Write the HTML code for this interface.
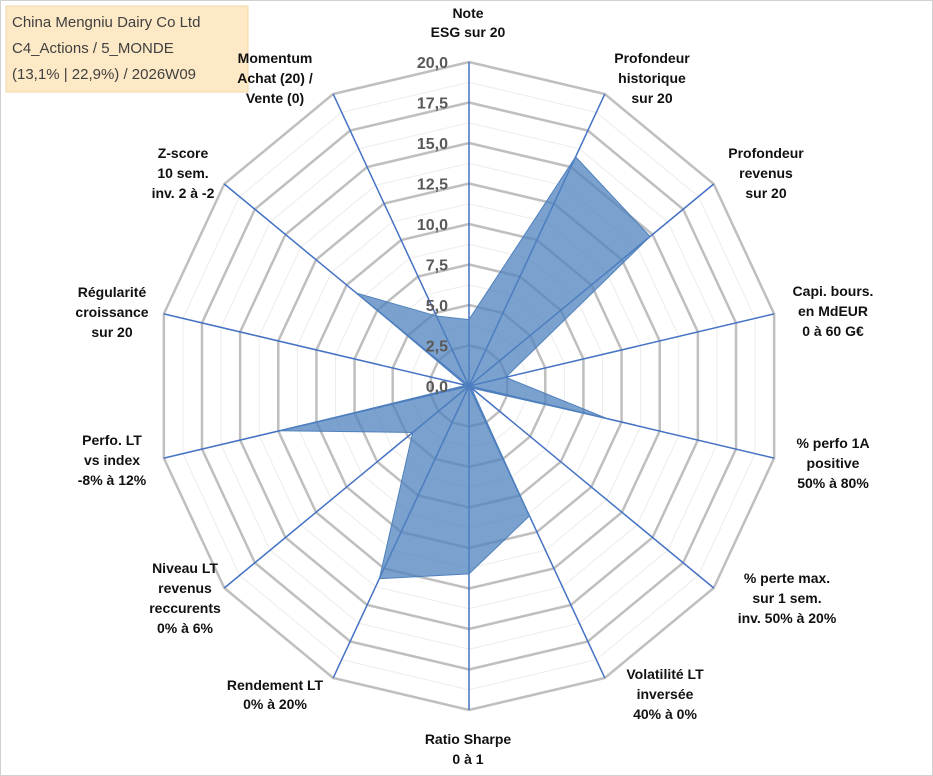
<!DOCTYPE html>
<html><head><meta charset="utf-8"><style>
body{margin:0;background:#fff}
svg{display:block;font-family:"Liberation Sans",sans-serif}
.cat{font-size:14px;font-weight:bold;fill:#111;text-anchor:middle}
.tick{font-size:16px;font-weight:bold;fill:#595959;text-anchor:end}
</style></head><body>
<svg width="933" height="776">
<rect x="0.5" y="0.5" width="932" height="775" fill="#fff" stroke="#d0d0d0"/>
<g>
<rect x="6" y="6" width="242" height="86" fill="#fde9c6" stroke="#f3d9a8"/>
<text x="12" y="27" font-size="15" fill="#404040">China Mengniu Dairy Co Ltd</text>
<text x="12" y="53" font-size="15" fill="#404040">C4_Actions / 5_MONDE</text>
<text x="12" y="79" font-size="15" fill="#404040">(13,1% | 22,9%) / 2026W09</text>
</g>
<g id="minor"></g><g id="rings"></g><g id="axes"></g><g id="series"></g><g id="ticks"></g>
<g>
<text class="cat" x="468" y="18">Note</text><text class="cat" x="468" y="37">ESG sur 20</text>
<text class="cat" x="652" y="63">Profondeur</text><text class="cat" x="652" y="83">historique</text><text class="cat" x="652" y="103">sur 20</text>
<text class="cat" x="766" y="158">Profondeur</text><text class="cat" x="766" y="178">revenus</text><text class="cat" x="766" y="198">sur 20</text>
<text class="cat" x="833" y="296">Capi. bours.</text><text class="cat" x="833" y="316">en MdEUR</text><text class="cat" x="833" y="336">0 à 60 G€</text>
<text class="cat" x="833" y="448">% perfo 1A</text><text class="cat" x="833" y="468">positive</text><text class="cat" x="833" y="488">50% à 80%</text>
<text class="cat" x="787" y="583">% perte max.</text><text class="cat" x="787" y="603">sur 1 sem.</text><text class="cat" x="787" y="623">inv. 50% à 20%</text>
<text class="cat" x="665" y="679">Volatilité LT</text><text class="cat" x="665" y="699">inversée</text><text class="cat" x="665" y="719">40% à 0%</text>
<text class="cat" x="468" y="744">Ratio Sharpe</text><text class="cat" x="468" y="764">0 à 1</text>
<text class="cat" x="275" y="690">Rendement LT</text><text class="cat" x="275" y="709">0% à 20%</text>
<text class="cat" x="185" y="573">Niveau LT</text><text class="cat" x="185" y="593">revenus</text><text class="cat" x="185" y="613">reccurents</text><text class="cat" x="185" y="633">0% à 6%</text>
<text class="cat" x="112" y="445">Perfo. LT</text><text class="cat" x="112" y="465">vs index</text><text class="cat" x="112" y="485">-8% à 12%</text>
<text class="cat" x="112" y="297">Régularité</text><text class="cat" x="112" y="317">croissance</text><text class="cat" x="112" y="337">sur 20</text>
<text class="cat" x="183" y="158">Z-score</text><text class="cat" x="183" y="178">10 sem.</text><text class="cat" x="183" y="198">inv. 2 à -2</text>
<text class="cat" x="275" y="63">Momentum</text><text class="cat" x="275" y="83">Achat (20) /</text><text class="cat" x="275" y="103">Vente (0)</text>
</g>
</svg>
<script>
const categories=["Note ESG","Profondeur historique","Profondeur revenus","Capi. bours.","% perfo 1A","% perte max.","Volatilité LT","Ratio Sharpe","Rendement LT","Niveau LT","Perfo. LT","Régularité","Z-score","Momentum"];
const values=[4.1,15.7,14.8,2.4,9.1,0.2,8.9,11.6,13.2,4.6,12.4,0.2,9.2,4.8];
const tickLabels=["0,0","2,5","5,0","7,5","10,0","12,5","15,0","17,5","20,0"];
const tickValues=[0,2.5,5,7.5,10,12.5,15,17.5,20];
const NS="http://www.w3.org/2000/svg",cx=469,cy=386,Rx=313,Ry=324,maxV=20;
const n=categories.length;
function pt(i,v){const a=2*Math.PI*i/n;const f=v/maxV;return [cx+f*Rx*Math.sin(a),cy-f*Ry*Math.cos(a)];}
function mk(t,at,p){const e=document.createElementNS(NS,t);for(const k in at)e.setAttribute(k,at[k]);document.getElementById(p).appendChild(e);return e;}
tickValues.forEach((tv,j)=>{if(j===tickValues.length-1)return;
const mv=tv+(tickValues[1]-tickValues[0])/2;
const e=mk("polygon",{points:categories.map((c,i)=>pt(i,mv).join(",")).join(" "),fill:"none",stroke:"#ececec","stroke-width":"1"},"minor");

});
tickValues.forEach((tv,j)=>{if(tv===0)return;
const e=mk("polygon",{points:categories.map((c,i)=>pt(i,tv).join(",")).join(" "),fill:"none",stroke:"#bfbfbf","stroke-width":"2.5"},"rings");

});
categories.forEach((c,i)=>{const p=pt(i,maxV);
const e=mk("line",{x1:cx,y1:cy,x2:p[0],y2:p[1],stroke:"#4472c4","stroke-width":"1.5"},"axes");

});
const poly=mk("polygon",{points:values.map((v,i)=>pt(i,v).join(",")).join(" "),fill:"#4f81bd","fill-opacity":"0.75",stroke:"#4f81bd","stroke-width":"1"},"series");


tickValues.forEach((tv,j)=>{const p=pt(0,tv);
const e=mk("text",{x:p[0]-21,y:p[1]+6,class:"tick"},"ticks");e.textContent=tickLabels[j];

});
</script>
</body></html>
